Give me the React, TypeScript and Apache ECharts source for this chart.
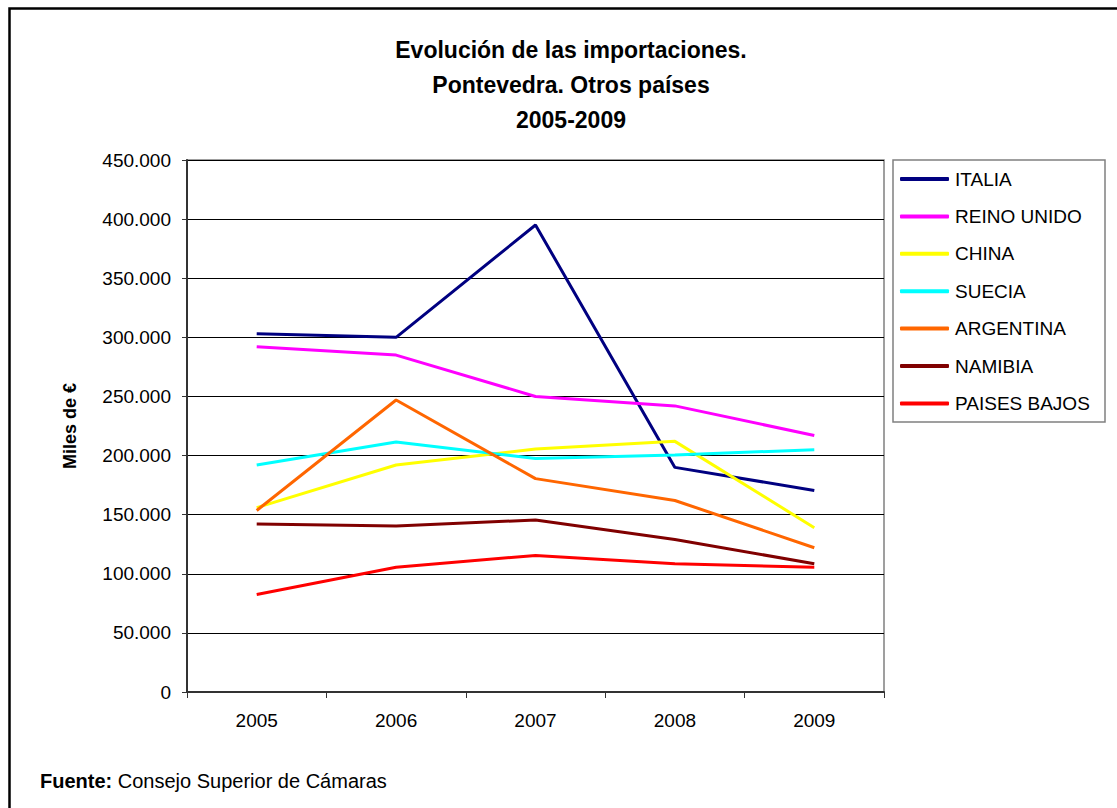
import React, { useEffect, useRef } from "react";
import * as echarts from "echarts";

const years = ["2005", "2006", "2007", "2008", "2009"];
const italia = [303000, 300000, 395000, 190000, 170500];
const reinoUnido = [292000, 285000, 250000, 242000, 217000];
const china = [156000, 192000, 205500, 212000, 139000];
const suecia = [192000, 211500, 197500, 200500, 205000];
const argentina = [153500, 247000, 180500, 162000, 122000];
const namibia = [142000, 140500, 145500, 129000, 108500];
const paisesBajos = [82500, 105500, 115500, 108500, 105500];

const seriesDefs = [
  { name: "ITALIA", data: italia, color: "#000080" },
  { name: "REINO UNIDO", data: reinoUnido, color: "#FF00FF" },
  { name: "CHINA", data: china, color: "#FFFF00" },
  { name: "SUECIA", data: suecia, color: "#00FFFF" },
  { name: "ARGENTINA", data: argentina, color: "#FF6600" },
  { name: "NAMIBIA", data: namibia, color: "#800000" },
  { name: "PAISES BAJOS", data: paisesBajos, color: "#FF0000" },
];

const FONT = "'Liberation Sans', Arial, sans-serif";

function fmt(v: number): string {
  return String(Math.round(v)).replace(/\B(?=(\d{3})+(?!\d))/g, ".");
}

export default function App() {
  const ref = useRef<HTMLDivElement>(null);
  useEffect(() => {
    document.body.style.margin = "0";
    const chart = echarts.init(ref.current!, null, { renderer: "svg" });
    chart.setOption({
      animation: false,
      backgroundColor: "#ffffff",
      textStyle: { fontFamily: FONT },
      title: {
        text: "Evolución de las importaciones.\nPontevedra. Otros países\n2005-2009",
        left: 566,
        top: 27,
        textAlign: "center",
        textStyle: {
          fontFamily: FONT,
          fontSize: 23,
          fontWeight: "bold",
          color: "#000",
          lineHeight: 35,
        },
      },
      grid: {
        left: 187,
        top: 160,
        right: 233,
        bottom: 116,
        show: true,
        borderColor: "#808080",
        borderWidth: 1.5,
        containLabel: false,
      },
      legend: {
        orient: "vertical",
        left: 900,
        top: 168,
        padding: 0,
        itemWidth: 49,
        itemHeight: 4,
        itemGap: 15.4,
        icon: "roundRect",
        textStyle: {
          fontFamily: FONT,
          fontSize: 19,
          color: "#000",
          lineHeight: 22,
          padding: [0, 0, 0, 1],
        },
        data: seriesDefs.map((s) => s.name),
      },
      xAxis: {
        type: "category",
        data: years,
        boundaryGap: true,
        axisLine: { show: true, lineStyle: { color: "#333", width: 2 } },
        axisTick: {
          show: true,
          alignWithLabel: false,
          interval: 0,
          length: 6,
          lineStyle: { color: "#333", width: 1 },
        },
        axisLabel: {
          fontFamily: FONT,
          fontSize: 19,
          color: "#000",
          margin: 19,
        },
        splitLine: { show: false },
      },
      yAxis: {
        type: "value",
        min: 0,
        max: 450000,
        interval: 50000,
        name: "Miles de €",
        nameLocation: "middle",
        nameRotate: 90,
        nameGap: 108,
        nameTextStyle: {
          fontFamily: FONT,
          fontSize: 18,
          fontWeight: "bold",
          color: "#000",
        },
        axisLine: { show: true, lineStyle: { color: "#333", width: 2 } },
        axisTick: { show: true, length: 5, lineStyle: { color: "#333", width: 1 } },
        axisLabel: {
          fontFamily: FONT,
          fontSize: 19,
          color: "#000",
          margin: 16,
          formatter: (v: number) => fmt(v),
        },
        splitLine: { show: true, lineStyle: { color: "#000", width: 1 } },
      },
      series: seriesDefs.map((s) => ({
        name: s.name,
        type: "line",
        data: s.data,
        symbol: "none",
        showSymbol: false,
        color: s.color,
        lineStyle: { color: s.color, width: 3 },
        itemStyle: { color: s.color },
      })),
      graphic: [
        {
          type: "rect",
          shape: { x: 9.5, y: 8.5, width: 1200, height: 900 },
          style: { fill: "none", stroke: "#000", lineWidth: 2.5 },
          silent: true,
        },
        {
          type: "rect",
          shape: { x: 893, y: 160, width: 212, height: 262 },
          style: { fill: "none", stroke: "#808080", lineWidth: 1.5 },
          silent: true,
        },
        {
          type: "text",
          x: 40,
          y: 781,
          style: {
            text: "{b|Fuente:} Consejo Superior de Cámaras",
            verticalAlign: "middle",
            fontFamily: FONT,
            fontSize: 20,
            fill: "#000",
            rich: {
              b: { fontFamily: FONT, fontSize: 20, fontWeight: "bold", fill: "#000" },
            },
          },
        },
      ],
    });
    return () => chart.dispose();
  }, []);
  return <div ref={ref} style={{ width: 1117, height: 808 }} />;
}
